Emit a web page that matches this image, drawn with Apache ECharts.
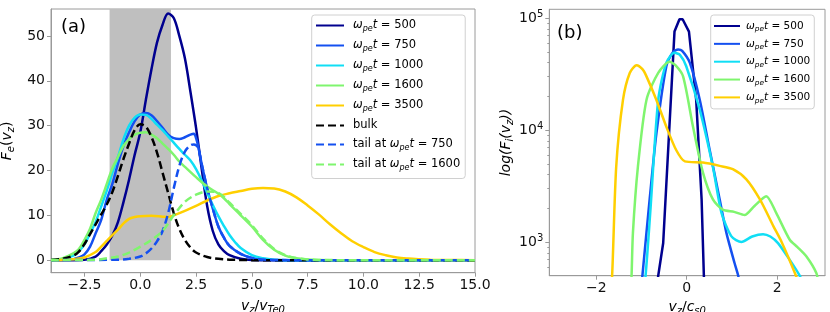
<!DOCTYPE html>
<html><head><meta charset="utf-8">
<script src="https://cdn.jsdelivr.net/npm/echarts@6/dist/echarts.min.js"></script>
<style>html,body{margin:0;padding:0;background:#fff}#c{width:830px;height:312px}</style>
</head><body><div id="c"></div>
<script>
// ---------- Panel (a): F_e(v_z) vs v_z/v_Te0 ----------
const fe500 = [[-4,0],[-3,0],[-2.5,0.1],[-2,0.8],[-1.75,2],[-1.5,3.5],[-1.25,5.5],[-1,8.5],[-0.75,13],[-0.5,18],[-0.25,23.5],[0,28.5],[0.25,35.7],[0.5,42.5],[0.75,48.5],[1,52.5],[1.25,55],[1.5,54],[1.75,50],[2,45],[2.25,37.5],[2.5,29.5],[2.75,20.5],[3,12],[3.25,6.5],[3.5,3.5],[3.75,2],[4,1.1],[4.5,0.3],[5,0.05],[6,0],[15,0]];
const fe750 = [[-4,0],[-3.5,0.05],[-3,0.2],[-2.75,0.6],[-2.5,1.3],[-2.25,3],[-2,6],[-1.75,9],[-1.5,13.5],[-1.25,17],[-1,21.5],[-0.75,25.5],[-0.5,28.5],[-0.25,31],[0,32.5],[0.25,32.8],[0.5,32.3],[0.75,31],[1,29.5],[1.25,28],[1.5,27.2],[1.75,27],[2,27.4],[2.25,28],[2.4,28.2],[2.5,27.2],[2.6,25.3],[2.75,21.5],[3,16],[3.25,11.5],[3.5,7.5],[3.75,5],[4,3.2],[4.5,1.4],[5,0.5],[5.5,0.15],[6,0.05],[7,0],[15,0]];
const fe1000 = [[-4,0],[-3.5,0.2],[-3,1],[-2.75,2],[-2.5,3.5],[-2.25,6],[-2,8.5],[-1.75,12],[-1.5,15.5],[-1.25,19.5],[-1,23],[-0.75,27],[-0.5,30],[-0.25,31.8],[0,32.5],[0.25,32.4],[0.5,31.5],[0.75,30.2],[1,29],[1.25,27.6],[1.5,26.2],[1.75,24.8],[2,23.5],[2.25,22.2],[2.5,20.3],[2.75,17.8],[3,15],[3.25,12.3],[3.5,9.8],[3.75,7.6],[4,5.6],[4.25,4],[4.5,2.7],[5,1.1],[5.5,0.4],[6,0.1],[7,0],[15,0]];
const fe1600 = [[-4,0.1],[-3.5,0.4],[-3,1.5],[-2.75,2.5],[-2.5,4.5],[-2.25,7],[-2,10.5],[-1.75,13.5],[-1.5,17],[-1.25,20.5],[-1,23],[-0.75,25.5],[-0.5,27],[-0.25,28],[0,28.4],[0.25,28.5],[0.5,28],[0.75,27.2],[1,26],[1.25,24.8],[1.5,23.5],[1.75,22],[2,20.8],[2.5,18.5],[3,16.4],[3.5,14.8],[3.75,13.8],[4,12.5],[4.5,10],[5,7.5],[5.5,4.5],[6,2.3],[6.5,1],[7,0.4],[7.5,0.15],[8,0.05],[9,0],[15,0]];
const fe3500 = [[-4,0],[-3.5,0.05],[-3,0.2],[-2.5,0.6],[-2,1.8],[-1.75,3],[-1.5,4.3],[-1.25,5.6],[-1,6.8],[-0.75,8.2],[-0.5,9.2],[-0.25,9.6],[0,9.8],[0.5,9.9],[1,9.7],[1.25,9.6],[1.5,10],[2,11],[2.5,12.1],[3,13.3],[3.5,14.3],[4,14.9],[4.5,15.4],[5,15.9],[5.5,16.1],[6,16],[6.5,15.3],[7,14],[7.5,12.2],[8,10.2],[8.5,8],[9,6],[9.5,4.2],[10,2.9],[10.5,1.8],[11,1.1],[11.5,0.6],[12,0.35],[12.5,0.2],[13,0.1],[14,0.03],[15,0]];
const feBulk = [[-4,0.05],[-3.5,0.3],[-3,1],[-2.75,1.9],[-2.5,3.6],[-2.25,5.8],[-2,8],[-1.75,10.2],[-1.5,12.4],[-1.25,15.2],[-1,18.8],[-0.75,22.6],[-0.5,26],[-0.25,29],[0,30.3],[0.25,29.8],[0.5,27.5],[0.75,24],[1,19.5],[1.25,15],[1.5,10.5],[1.75,7],[2,4.5],[2.25,2.8],[2.5,1.7],[3,0.7],[3.5,0.3],[4,0.1],[4.5,0.05],[5,0],[15,0]];
const feTail750 = [[-4,0],[-1,0.1],[-0.5,0.3],[0,0.8],[0.25,1.5],[0.5,2.6],[0.75,4.2],[1,6.5],[1.25,10.5],[1.5,16],[1.75,21],[2,24.2],[2.25,25.6],[2.4,25.8],[2.5,25.6],[2.6,25],[2.75,21.5],[3,16],[3.25,11.5],[3.5,7.5],[3.75,5],[4,3.2],[4.5,1.4],[5,0.5],[5.5,0.15],[6,0.05],[7,0],[15,0]];
const feTail1600 = [[-4,0],[-2,0.1],[-1.5,0.4],[-1,0.8],[-0.5,1.7],[0,3],[0.5,4.5],[1,6.5],[1.5,10],[2,13],[2.5,14.6],[3,15.3],[3.5,15],[4,12.8],[4.5,10.3],[5,7.8],[5.5,4.8],[6,2.5],[6.5,1.1],[7,0.45],[7.5,0.15],[8,0.05],[9,0],[15,0]];
const shadeRange = [-1.375, 1.375];
const xTicksA = [-2.5, 0, 2.5, 5, 7.5, 10, 12.5, 15];
const yTicksA = [0, 10, 20, 30, 40, 50];

// ---------- Panel (b): F_i(v_z) (log) vs v_z/c_s0 ----------
const fi500 = [[-0.75,200],[-0.63,500],[-0.52,980],[-0.27,75900],[-0.16,97700],[-0.09,97700],[0.05,75900],[0.21,18600],[0.33,2400],[0.38,500],[0.45,150]];
const fi750 = [[-1.05,250],[-0.98,500],[-0.82,2400],[-0.67,9330],[-0.45,37200],[-0.3,50000],[-0.19,52500],[-0.1,51000],[0.07,39800],[0.29,18600],[0.51,6600],[0.73,2400],[0.88,1200],[1.06,646],[1.14,500],[1.25,300]];
const fi1000 = [[-1,250],[-0.91,500],[-0.8,2000],[-0.63,18600],[-0.45,40000],[-0.27,49000],[-0.15,47000],[-0.01,37200],[0.29,15100],[0.58,4680],[0.77,1820],[0.99,1122],[1.21,1000],[1.45,1120],[1.69,1175],[1.85,1120],[2.02,977],[2.28,692],[2.5,500],[2.6,400]];
const fi1600 = [[-1.25,300],[-1.22,500],[-1.19,1200],[-1.08,4680],[-0.89,18600],[-0.63,32400],[-0.38,40700],[-0.25,38000],[-0.08,30200],[0.14,10700],[0.36,4170],[0.58,2400],[0.8,1950],[1.05,1860],[1.28,1740],[1.5,2100],[1.76,2570],[1.98,1820],[2.28,1047],[2.45,900],[2.65,741],[2.87,525],[2.92,400]];
const fi3500 = [[-1.7,300],[-1.65,500],[-1.56,4680],[-1.41,18600],[-1.26,32400],[-1.11,38000],[-0.98,35000],[-0.89,30200],[-0.67,18600],[-0.45,10700],[-0.23,6600],[-0.04,5250],[0.36,5130],[0.73,4790],[1.02,4470],[1.32,3630],[1.62,2400],[1.92,1380],[2.1,1000],[2.4,520],[2.5,400]];
const xTicksB = [-2, 0, 2];
const yDecadesB = [1000, 10000, 100000];
const yRangeB = [500, 120000];

// ---------- styling ----------
const FONT = 'DejaVu Sans';
const C = {c500:'#00008f', c750:'#1450f0', c1000:'#10def5', c1600:'#7ff56e', c3500:'#ffcf00', bulk:'#000000'};
const AX = '#9a9a9a';
const minus = s => String(s).replace('-', '\u2212');

const nameRich = {
  i:{fontFamily:FONT, fontSize:14, fontStyle:'italic', lineHeight:18, color:'#000'},
  n:{fontFamily:FONT, fontSize:14, lineHeight:18, color:'#000'},
  s:{fontFamily:FONT, fontSize:10, fontStyle:'italic', lineHeight:10, verticalAlign:'bottom', color:'#000'}
};
function legRich(fs){
  return {
    w:{fontFamily:FONT, fontSize:fs, fontStyle:'italic', lineHeight:14, color:'#000'},
    s:{fontFamily:FONT, fontSize:fs*0.7, fontStyle:'italic', lineHeight:fs*0.7, verticalAlign:'bottom', color:'#000'},
    n:{fontFamily:FONT, fontSize:fs, lineHeight:14, color:'#000'}
  };
}
const om = v => '{w|ω}{s|pe}{w|t}{n| = ' + v + '}';
const labelsA = {a500:om(500), a750:om(750), a1000:om(1000), a1600:om(1600), a3500:om(3500),
  abulk:'{n|bulk}', atail750:'{n|tail at }' + om(750), atail1600:'{n|tail at }' + om(1600)};
const labelsB = {b500:om(500), b750:om(750), b1000:om(1000), b1600:om(1600), b3500:om(3500)};

const L10 = v => Math.log10(v);
const toLog = arr => arr.map(p => [p[0], L10(p[1])]);
const minorB = [];
for (let e = 2; e <= 5; e++) for (let k = 2; k <= 9; k++) { const v = k * Math.pow(10, e); if (v > yRangeB[0] && v < yRangeB[1]) minorB.push(L10(v)); }

function lineA(name, data, color, dashed, z){
  return {name, type:'line', xAxisIndex:0, yAxisIndex:0, data, symbol:'none', smooth:0.35, z: z||2,
    lineStyle:{color, width:2.5, type: dashed ? [8,4] : 'solid'}, itemStyle:{color}, animation:false};
}
function lineB(name, data, color, sm){
  return {name, type:'line', xAxisIndex:1, yAxisIndex:1, data: toLog(data), symbol:'none', smooth:sm, z:2,
    lineStyle:{color, width:2.5}, itemStyle:{color}, animation:false};
}

const chart = echarts.init(document.getElementById('c'), null, {renderer:'canvas'});
const s0 = lineA('a500', fe500, C.c500, false);
s0.markArea = {silent:true, z:1, itemStyle:{color:'#bfbfbf', opacity:1}, data:[[{xAxis:shadeRange[0], yAxis:0},{xAxis:shadeRange[1], yAxis:56}]]};

chart.setOption({
  animation:false,
  backgroundColor:'#fff',
  grid:[
    {left:51, top:9, width:424, height:263.7, show:true, borderColor:AX, borderWidth:1, backgroundColor:'transparent', containLabel:false, outerBoundsMode:'none'},
    {left:549.3, top:9.3, width:275.7, height:266.4, show:true, borderColor:AX, borderWidth:1, backgroundColor:'transparent', containLabel:false, outerBoundsMode:'none'}
  ],
  graphic:[
    {type:'text', x:61, y:27, style:{text:'(a)', font:'18px "DejaVu Sans"', fill:'#000', verticalAlign:'middle'}, z:10},
    {type:'text', x:557, y:33, style:{text:'(b)', font:'18px "DejaVu Sans"', fill:'#000', verticalAlign:'middle'}, z:10}
  ],
  xAxis:[
    {type:'value', gridIndex:0, min:-4, max:15, splitLine:{show:false},
     axisLine:{onZero:false, lineStyle:{color:AX}}, axisTick:{customValues:xTicksA, length:4, lineStyle:{color:AX}},
     axisLabel:{customValues:xTicksA, formatter:v=>minus(v.toFixed(1)), fontFamily:FONT, fontSize:14, color:'#111', margin:6},
     name:'{i|v}{s|z}{n|/}{i|v}{s|Te0}', nameLocation:'middle', nameGap:25, nameTextStyle:{rich:nameRich}},
    {type:'value', gridIndex:1, min:-3.04, max:3.06, splitLine:{show:false},
     axisLine:{onZero:false, lineStyle:{color:AX}}, axisTick:{customValues:xTicksB, length:4, lineStyle:{color:AX}},
     axisLabel:{customValues:xTicksB, formatter:v=>minus(v), fontFamily:FONT, fontSize:14, color:'#111', margin:6},
     name:'{i|v}{s|z}{n|/}{i|c}{s|s0}', nameLocation:'middle', nameGap:21, nameTextStyle:{rich:nameRich}}
  ],
  yAxis:[
    {type:'value', gridIndex:0, min:-2.8, max:56, splitLine:{show:false},
     axisLine:{onZero:false, lineStyle:{color:AX}}, axisTick:{customValues:yTicksA, length:4, lineStyle:{color:AX}},
     axisLabel:{customValues:yTicksA, fontFamily:FONT, fontSize:14, color:'#111', margin:6},
     name:'{i|F}{s|e}{n|(}{i|v}{s|z}{n|)}', nameLocation:'middle', nameGap:26, nameTextStyle:{rich:nameRich}},
    {type:'value', gridIndex:1, min:L10(yRangeB[0]), max:L10(yRangeB[1]), splitLine:{show:false},
     axisLine:{onZero:false, lineStyle:{color:AX}}, axisTick:{customValues:yDecadesB.map(L10), length:4, lineStyle:{color:AX}},
     axisLabel:{customValues:yDecadesB.map(L10), formatter:v=>'{b|10}{p|' + Math.round(v) + '}', margin:6,
       rich:{b:{fontFamily:FONT, fontSize:14, color:'#111', lineHeight:18}, p:{fontFamily:FONT, fontSize:10, color:'#111', lineHeight:10, verticalAlign:'top'}}},
     name:'{i|log(F}{s|i}{i|(v}{s|z}{i|))}', nameLocation:'middle', nameGap:30, nameTextStyle:{rich:nameRich}},
    {type:'value', gridIndex:1, position:'left', offset:0, min:L10(yRangeB[0]), max:L10(yRangeB[1]), splitLine:{show:false},
     axisLine:{show:false, onZero:false}, axisTick:{customValues:minorB, length:2, lineStyle:{color:AX}}, axisLabel:{show:false}}
  ],
  legend:[
    {data:['a500','a750','a1000','a1600','a3500','abulk','atail750','atail1600'], orient:'vertical', left:311.7, top:15,
     itemWidth:28, itemHeight:14, itemGap:7, padding:[4.5,5,7,3.3], backgroundColor:'rgba(255,255,255,0.8)',
     borderColor:'#d0d0d0', borderWidth:1, borderRadius:3, formatter:n=>labelsA[n], itemStyle:{opacity:0},
     textStyle:{rich:legRich(11.5), padding:[0,0,0,4]}, selectedMode:false},
    {data:['b500','b750','b1000','b1600','b3500'], orient:'vertical', left:710.7, top:15,
     itemWidth:26, itemHeight:13, itemGap:5.35, padding:[5.5,4,4.5,2.3], backgroundColor:'rgba(255,255,255,0.8)',
     borderColor:'#d0d0d0', borderWidth:1, borderRadius:3, formatter:n=>labelsB[n], itemStyle:{opacity:0},
     textStyle:{rich:legRich(10.5), padding:[0,0,0,1]}, selectedMode:false}
  ],
  series:[
    s0,
    lineA('a750', fe750, C.c750, false),
    lineA('a1000', fe1000, C.c1000, false),
    lineA('a1600', fe1600, C.c1600, false),
    lineA('a3500', fe3500, C.c3500, false),
    lineA('abulk', feBulk, C.bulk, true),
    lineA('atail750', feTail750, C.c750, true),
    lineA('atail1600', feTail1600, C.c1600, true),
    lineB('b500', fi500, C.c500, 0),
    lineB('b750', fi750, C.c750, 0.25),
    lineB('b1000', fi1000, C.c1000, 0.25),
    lineB('b1600', fi1600, C.c1600, 0.25),
    lineB('b3500', fi3500, C.c3500, 0.25)
  ]
});
</script></body></html>
